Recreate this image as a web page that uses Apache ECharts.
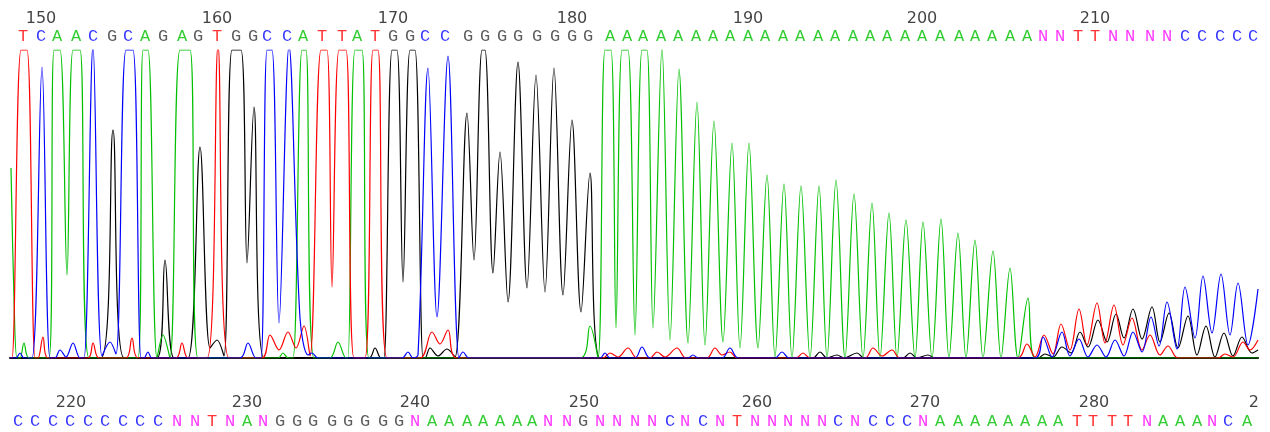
<!DOCTYPE html>
<html><head><meta charset="utf-8">
<script src="https://cdn.jsdelivr.net/npm/echarts@6/dist/echarts.min.js"></script>
<style>html,body{margin:0;padding:0;background:#fff;}#c{width:1259px;height:432px;}</style>
</head><body><div id="c"></div>
<script>
// ---- base calls (upper strip: bases 149-219, lower strip: bases 217-289) ----
const topBases = "TCAACGCAGAGTGGCCATTATGGCC" + "GGGGGGGG" + "AAAAAAAAAAAAAAAAAAAAAAAAA" + "NNTTNNNN" + "CCCCC";
const topBaseX = [23,41,57,76,93,112,128,145,163,182,198,217,236,253,267,287,303,322,342,357,375,393,410,425,445,
  468,485,502,518,537,555,572,588,
  610,627,643,661,678,696,713,730,748,765,783,800,818,835,853,870,887,905,922,940,959,975,992,1010,1027,
  1043,1060,1078,1095,1113,1130,1150,1167,
  1185,1202,1220,1237,1253];
const topTickLabels = ["150","160","170","180","190","200","210"];
const topTickX = [41,217,393,572,748,922,1095];

const bottomBases = "CCCCCCCCC" + "NNTNAN" + "GGGGGGGG" + "N" + "AAAAAAA" + "NNG" + "NNNN" + "CNCNT" + "NNNNN" + "CNCCCN" + "AAAAAAAA" + "TTTT" + "N" + "AAA" + "NCA";
const bottomBaseX = [18,35,53,70,88,105,123,140,158,
  177,195,212,230,247,263,
  280,297,313,332,348,365,383,399,
  415,
  432,449,467,483,500,517,532,
  548,567,583,
  600,617,635,652,
  670,685,703,720,737,
  755,772,788,805,822,
  838,855,873,890,907,923,
  940,958,975,992,1008,1025,1042,1058,
  1077,1093,1112,1128,
  1147,
  1163,1180,1197,
  1212,1228,1247];
const bottomTickLabels = ["220","230","240","250","260","270","280","290"];
const bottomTickX = [71,247,415,584,757,925,1094,1264];

// ---- trace signals: [scan, intensity] read at peaks and troughs ----
const traceA = [[11,190],[14,60],[17,0],[20,0],[24,15],[29,0],
  [49,0],[54,308],[60,308],[67,83],[73,308],[80,308],[89,0],
  [138,0],[143,308],[148,308],[157,0],[163,23],[170,0],[180,308],[190,308],[198,0],
  [278,0],[283,5],[288,0],[293,0],[302,308],[306,308],[314,0],
  [330,0],[338,16],[346,0],[348,0],[355,308],[362,308],[369,0],
  [580,0],[590,32],[598,0],
  [605,308],[611,308],[616,30],[622,308],[628,308],[635,23],[642,308],[647,308],[653,30],
  [662,310],[670,18],[679,289],[688,15],[697,256],[705,13],[714,237],[723,16],[732,215],[740,10],
  [749,215],[758,10],[767,183],[775,1],[784,174],[792,0],[801,172],[810,0],[819,172],[827,0],
  [836,178],[845,0],[854,164],[863,0],[872,155],[880,0],[889,145],[897,0],[906,138],[915,0],
  [923,136],[932,0],[941,139],[949,0],[958,125],[966,0],[975,118],[983,0],[993,107],[1001,0],
  [1010,90],[1018,0],[1028,60],[1035,0],[1258,0]];
const traceC = [[10,0],[16,0],[20,5],[24,0],
  [32,0],[42,291],[50,0],[55,0],[60,8],[66,1],[73,15],[80,0],
  [84,0],[93,312],[102,2],[110,16],[116,4],[126,308],[133,308],[141,0],[144,0],[148,6],[152,0],
  [240,0],[248,15],[256,0],
  [261,0],[267,308],[272,308],[279,35],[289,312],[300,40],[308,3],[312,5],[318,0],
  [402,0],[408,6],[413,0],[418,3],[428,290],[437,41],[448,302],[459,0],[463,6],[469,0],
  [600,0],[605,5],[610,0],[635,0],[642,11],[650,0],[688,0],[693,3],[698,0],
  [722,0],[730,10],[738,0],[775,0],[782,6],[789,0],
  [1035,0],[1043,21],[1052,1],[1062,26],[1070,2],[1079,19],[1088,1],[1097,13],[1106,1],
  [1115,18],[1124,2],[1133,26],[1142,6],[1151,41],[1159,12],[1167,56],[1177,9],[1185,71],
  [1195,20],[1203,82],[1212,25],[1221,84],[1230,23],[1238,75],[1248,13],[1258,69]];
const traceG = [[10,0],[101,0],[113,228],[124,0],
  [157,0],[165,98],[174,0],
  [188,0],[200,211],[210,10],[217,18],[224,2],
  [232,308],[241,308],[247,95],[254,251],[264,0],
  [369,0],[375,10],[381,0],
  [384,0],[392,308],[397,308],[403,76],[410,308],[415,308],[423,0],
  [425,0],[430,10],[438,2],[447,9],[455,1],
  [467,245],[474,98],[482,308],[485,308],[493,85],[500,206],[508,56],[518,296],[527,70],
  [536,283],[545,66],[554,290],[563,63],[572,238],[581,46],[590,185],[600,0],
  [813,0],[820,6],[827,0],[837,3],[844,0],[857,5],[864,0],
  [903,0],[910,5],[917,0],[928,3],[935,0],
  [1038,0],[1045,4],[1053,1],[1062,11],[1071,5],[1080,26],[1088,11],[1098,38],[1107,16],
  [1116,44],[1124,20],[1133,49],[1142,19],[1152,51],[1160,16],[1169,45],[1178,10],[1188,42],
  [1197,3],[1206,32],[1215,1],[1224,25],[1233,2],[1242,21],[1252,5],[1258,8]];
const traceT = [[10,0],[12,0],[21,308],[27,308],[35,0],
  [38,0],[43,21],[48,0],[88,0],[93,15],[99,0],[126,0],[132,20],[138,0],[176,0],[182,15],[188,0],
  [207,0],[218,312],[229,0],
  [262,0],[270,23],[279,8],[288,26],[296,10],[304,32],[310,2],
  [321,308],[327,308],[332,71],[339,308],[346,308],[354,0],
  [365,0],[373,308],[378,308],[387,0],
  [420,0],[432,26],[440,14],[448,28],[457,0],
  [603,0],[610,5],[618,1],[628,10],[637,0],[650,0],[657,6],[665,1],[677,10],[686,0],
  [707,0],[715,10],[722,3],[730,6],[737,0],[796,0],[803,5],[810,0],
  [865,0],[873,10],[882,2],[892,8],[900,0],
  [1018,0],[1027,14],[1035,1],[1044,23],[1053,4],[1061,34],[1070,8],[1079,49],[1087,13],
  [1097,55],[1105,15],[1114,53],[1123,13],[1132,40],[1142,8],[1150,23],[1160,3],[1168,12],
  [1178,0],[1218,0],[1225,4],[1233,1],[1243,16],[1250,8],[1258,18]];

// ---- styling ----
const baseColor = {A:'#00c000', C:'#0000ff', G:'#333333', T:'#ff0000', N:'#ff00ff'};
const traceColor = {A:'#00c000', C:'#0000ff', G:'#000000', T:'#ff0000'};
const X_MIN = 10, X_MAX = 1258;
const LETTER_FONT = {fontFamily:'Liberation Mono', fontSize:17};
const NUM_FONT = {fontFamily:'DejaVu Sans', fontSize:16, color:'#111'};

const chart = echarts.init(document.getElementById('c'), null, {renderer:'canvas'});

function hiddenX(gridIndex, showLine) {
  return {type:'value', gridIndex, min:X_MIN, max:X_MAX,
    axisLine:{show:!!showLine, onZero:false, lineStyle:{color:'#000', width:2}},
    axisTick:{show:false}, axisLabel:{show:false}, splitLine:{show:false}};
}
function rowY(gridIndex) {
  return {type:'category', gridIndex, data:['num','base'], inverse:true,
    axisLine:{show:false}, axisTick:{show:false}, axisLabel:{show:false}, splitLine:{show:false}};
}
function textSeries(axisIdx, xs, texts, rowName, colorFn, font) {
  return {type:'scatter', xAxisIndex:axisIdx, yAxisIndex:axisIdx, silent:true, animation:false,
    symbol:'circle', symbolSize:1, itemStyle:{color:'rgba(0,0,0,0)'}, clip:false,
    data: texts.map((t,i)=>({name:t, value:[xs[i], rowName], label:{color: colorFn(t)}})),
    label:{show:true, position:'inside', formatter:p=>p.name, ...font}};
}
function traceSeries(key, data) {
  return {type:'line', name:key, xAxisIndex:0, yAxisIndex:0, data, showSymbol:false, symbol:'none',
    smooth:0.35, clip:true, animation:false, silent:true,
    lineStyle:{color:traceColor[key], width:1.2}};
}

chart.setOption({
  backgroundColor:'#ffffff',
  animation:false,
  grid:[
    {left:10, width:1248, top:50, height:308},
    {left:10, width:1248, top:9.5, height:36},
    {left:10, width:1248, top:393.5, height:37}
  ],
  xAxis:[hiddenX(0,true), hiddenX(1,false), hiddenX(2,false)],
  yAxis:[{type:'value', gridIndex:0, min:0, max:308, show:false}, rowY(1), rowY(2)],
  series:[
    traceSeries('G', traceG),
    traceSeries('A', traceA),
    traceSeries('T', traceT),
    traceSeries('C', traceC),
    textSeries(1, topTickX, topTickLabels, 'num', ()=>NUM_FONT.color, NUM_FONT),
    textSeries(1, topBaseX, topBases.split(''), 'base', b=>baseColor[b], LETTER_FONT),
    textSeries(2, bottomTickX, bottomTickLabels, 'num', ()=>NUM_FONT.color, NUM_FONT),
    textSeries(2, bottomBaseX, bottomBases.split(''), 'base', b=>baseColor[b], LETTER_FONT)
  ]
});
</script></body></html>
